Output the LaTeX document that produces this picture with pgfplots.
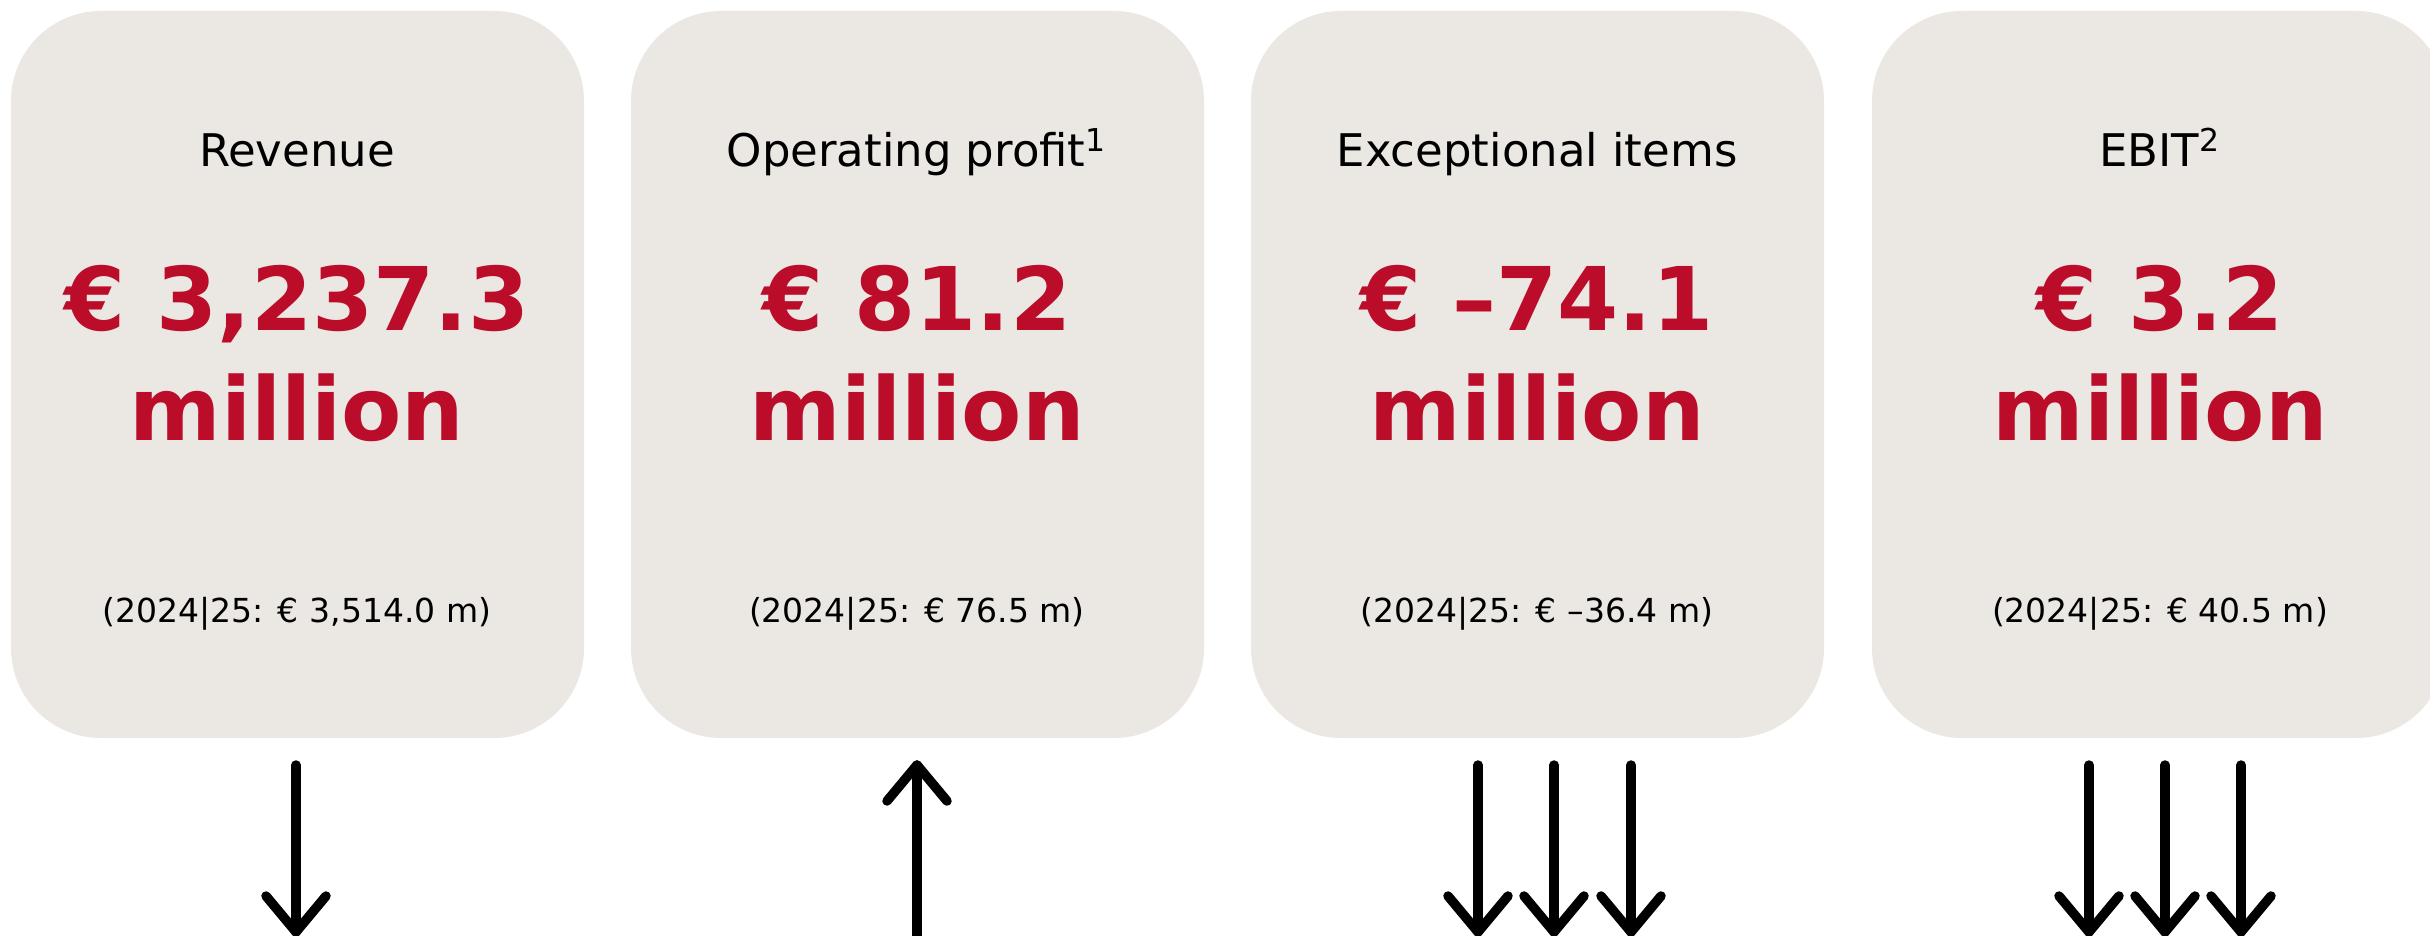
\documentclass[border=0pt]{standalone}
\usepackage{pgfplots}
\pgfplotsset{compat=1.18}
\usepackage{fontspec}
\setmainfont{DejaVu Sans}
\newfontfamily\bigfont{DejaVu Sans Bold}
\definecolor{card}{RGB}{235,232,228}
\definecolor{kred}{RGB}{187,12,42}
\begin{document}
\begin{tikzpicture}
\begin{axis}[
  width=24.3cm, height=9.35cm, scale only axis,
  xmin=0, xmax=2430, ymin=0, ymax=935, y dir=reverse,
  hide axis, clip=true, clip bounding box=upper bound,
  arr/.style={black, line width=0.095cm, line cap=round, line join=round, no markers},
  cardst/.style={draw=none, fill=card, rounded corners=0.9cm, no markers},
]
% full frame (invisible) so that the picture spans the whole axis
\addplot[draw=none, no markers] coordinates {(0,0) (2430,935)};
% cards
\addplot[cardst] coordinates {(11,11) (584,11) (584,738) (11,738)} -- cycle;
\addplot[cardst] coordinates {(631,11) (1204,11) (1204,738) (631,738)} -- cycle;
\addplot[cardst] coordinates {(1251,11) (1824,11) (1824,738) (1251,738)} -- cycle;
\addplot[cardst] coordinates {(1872,11) (2446,11) (2446,738) (1872,738)} -- cycle;
% titles
\node[anchor=base, font=\fontsize{12.8pt}{15pt}\selectfont] at (axis cs:297,167) {Revenue};
\node[anchor=base, font=\fontsize{12.8pt}{15pt}\selectfont] at (axis cs:917,167) {Operating profit\textsuperscript{1}};
\node[anchor=base, font=\fontsize{12.8pt}{15pt}\selectfont] at (axis cs:1537,167) {Exceptional items};
\node[anchor=base, font=\fontsize{12.8pt}{15pt}\selectfont] at (axis cs:2160,167) {EBIT\textsuperscript{2}};
% big values
\node[anchor=base, text=kred, font=\bigfont\fontsize{25pt}{30pt}\selectfont] at (axis cs:297,330) {€ 3,237.3};
\node[anchor=base, text=kred, font=\bigfont\fontsize{25pt}{30pt}\selectfont] at (axis cs:917,330) {€ 81.2};
\node[anchor=base, text=kred, font=\bigfont\fontsize{25pt}{30pt}\selectfont] at (axis cs:1537,330) {€ –74.1};
\node[anchor=base, text=kred, font=\bigfont\fontsize{25pt}{30pt}\selectfont] at (axis cs:2160,330) {€ 3.2};
\node[anchor=base, text=kred, font=\bigfont\fontsize{25pt}{30pt}\selectfont] at (axis cs:297,440) {million};
\node[anchor=base, text=kred, font=\bigfont\fontsize{25pt}{30pt}\selectfont] at (axis cs:917,440) {million};
\node[anchor=base, text=kred, font=\bigfont\fontsize{25pt}{30pt}\selectfont] at (axis cs:1537,440) {million};
\node[anchor=base, text=kred, font=\bigfont\fontsize{25pt}{30pt}\selectfont] at (axis cs:2160,440) {million};
% previous year
\node[anchor=base, font=\fontsize{9.4pt}{11pt}\selectfont] at (axis cs:297,622) {(2024|25: € 3,514.0 m)};
\node[anchor=base, font=\fontsize{9.4pt}{11pt}\selectfont] at (axis cs:917,622) {(2024|25: € 76.5 m)};
\node[anchor=base, font=\fontsize{9.4pt}{11pt}\selectfont] at (axis cs:1537,622) {(2024|25: € –36.4 m)};
\node[anchor=base, font=\fontsize{9.4pt}{11pt}\selectfont] at (axis cs:2160,622) {(2024|25: € 40.5 m)};
% arrows
\addplot[arr] coordinates {(296,765) (296,932)};
\addplot[arr] coordinates {(266,896) (296,932) (326,896)};
\addplot[arr] coordinates {(917,765) (917,940)};
\addplot[arr] coordinates {(887,801) (917,765) (947,801)};
\addplot[arr] coordinates {(1478,765) (1478,932)};
\addplot[arr] coordinates {(1448,896) (1478,932) (1508,896)};
\addplot[arr] coordinates {(1554,765) (1554,932)};
\addplot[arr] coordinates {(1524,896) (1554,932) (1584,896)};
\addplot[arr] coordinates {(1631,765) (1631,932)};
\addplot[arr] coordinates {(1601,896) (1631,932) (1661,896)};
\addplot[arr] coordinates {(2089,765) (2089,932)};
\addplot[arr] coordinates {(2059,896) (2089,932) (2119,896)};
\addplot[arr] coordinates {(2165,765) (2165,932)};
\addplot[arr] coordinates {(2135,896) (2165,932) (2195,896)};
\addplot[arr] coordinates {(2241,765) (2241,932)};
\addplot[arr] coordinates {(2211,896) (2241,932) (2271,896)};
\end{axis}
\end{tikzpicture}
\end{document}
